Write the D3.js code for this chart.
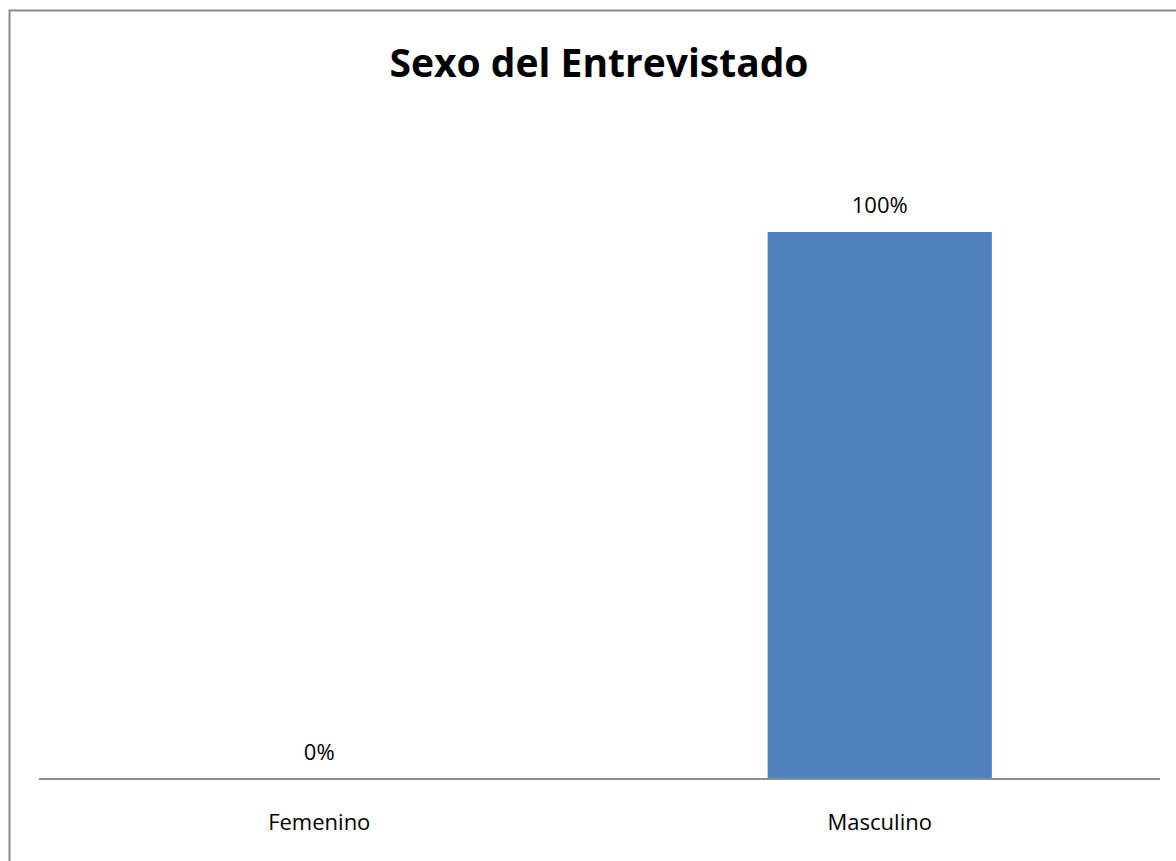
<!DOCTYPE html>
<html>
<head>
<meta charset="utf-8">
<script src="https://cdn.jsdelivr.net/npm/d3@7"></script>
<style>
  html, body { margin: 0; padding: 0; background: #fff; }
  svg { display: block; }
</style>
</head>
<body>
<svg id="chart" width="1176" height="861"></svg>
<script>
// Survey result: sex of the respondent
const title = "Sexo del Entrevistado";
const categories = ["Femenino", "Masculino"];
const shares = [0, 1];

const W = 1176, H = 861;
const svg = d3.select("#chart");
const font = "'Open Sans', 'Liberation Sans', sans-serif";

// Chart frame (runs past the right and bottom edges)
svg.append("rect")
  .attr("x", 9.5).attr("y", 10.5)
  .attr("width", 1220).attr("height", 900)
  .attr("fill", "#fff")
  .attr("stroke", "#8c8c8c").attr("stroke-width", 2);

const plot = { left: 39, right: 1160, top: 232, bottom: 779 };

const x = d3.scaleBand()
  .domain(categories)
  .range([plot.left, plot.right])
  .paddingInner(0.6).paddingOuter(0.3);

const y = d3.scaleLinear().domain([0, 1]).range([plot.bottom, plot.top]);

const rows = categories.map((c, i) => ({ c, v: shares[i] }));

// Bars
svg.append("g").selectAll("rect")
  .data(rows)
  .join("rect")
  .attr("x", d => x(d.c))
  .attr("width", x.bandwidth())
  .attr("y", d => y(d.v))
  .attr("height", d => y(0) - y(d.v))
  .attr("fill", "#4f81bd");

// Category axis
const axis = svg.append("g")
  .attr("transform", `translate(0,${plot.bottom})`)
  .call(d3.axisBottom(x).tickSize(0).tickSizeOuter(0));
axis.select(".domain").attr("stroke", "#8c8c8c").attr("stroke-width", 2)
  .attr("d", `M${plot.left},0H${plot.right}`);
axis.selectAll("text")
  .attr("y", 51).attr("dy", 0)
  .attr("font-family", font).attr("font-size", 22).attr("fill", "#000");

// Value labels
svg.append("g").selectAll("text")
  .data(rows)
  .join("text")
  .attr("x", d => x(d.c) + x.bandwidth() / 2)
  .attr("y", d => y(d.v) - 19)
  .attr("text-anchor", "middle")
  .attr("font-family", font).attr("font-size", 22).attr("fill", "#000")
  .text(d => d3.format(".0%")(d.v));

// Title
svg.append("text")
  .attr("x", 599).attr("y", 77)
  .attr("text-anchor", "middle")
  .attr("font-family", font).attr("font-size", 39).attr("font-weight", "bold")
  .attr("fill", "#000")
  .text(title);
</script>
</body>
</html>
